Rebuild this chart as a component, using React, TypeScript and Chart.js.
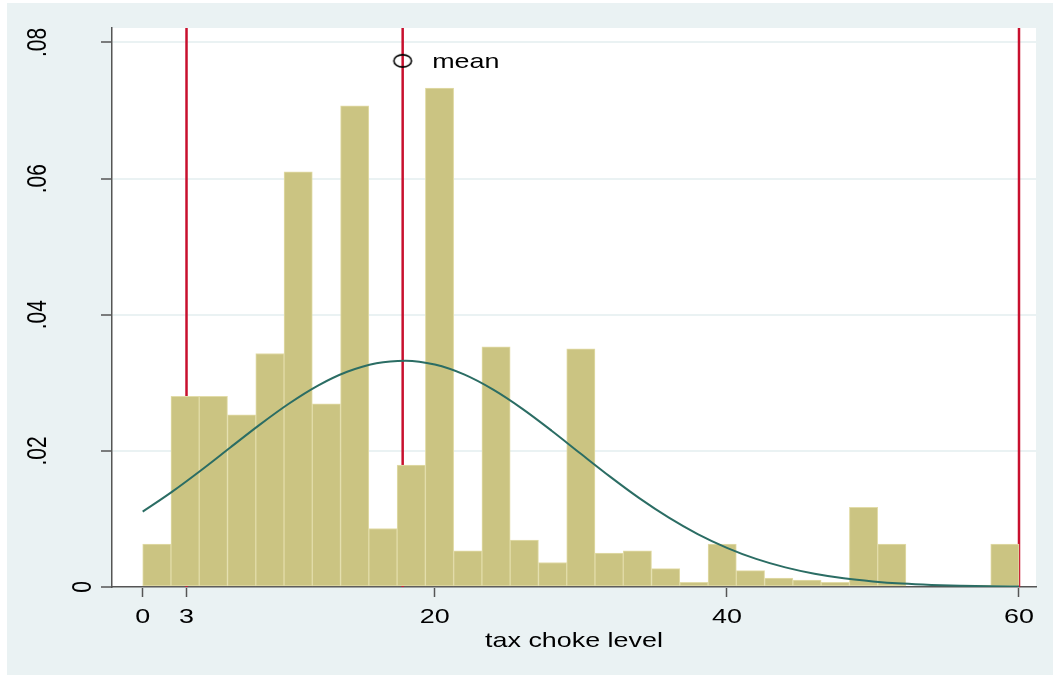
import { useEffect, useRef } from 'react';
import { Chart, registerables } from 'chart.js';

Chart.register(...registerables);

// ---- data ----
const BIN_COUNT = 31;
const BIN_MIN = 0;
const BIN_MAX = 60;
const DENSITY = [
  0.0063, 0.028, 0.028, 0.0253, 0.0343, 0.061, 0.0269, 0.0707, 0.0086, 0.0179,
  0.0733, 0.0053, 0.0353, 0.0069, 0.0036, 0.035, 0.005, 0.0053, 0.0027, 0.0007,
  0.0063, 0.0024, 0.0013, 0.001, 0.0007, 0.0117, 0.0063, 0, 0, 0.0003, 0.0063,
];
const CURVE_X = [
  0, 2, 4, 6, 8, 10, 12, 14, 16, 18, 20, 22, 24, 26, 28, 30, 32, 34, 36, 38, 40,
  42, 44, 46, 48, 50, 52, 54, 56, 58, 60,
];
const CURVE_Y = [
  0.01107, 0.01398, 0.01716, 0.0205, 0.02382, 0.02692, 0.02959, 0.03162, 0.03288,
  0.03325, 0.03268, 0.03123, 0.02899, 0.02617, 0.02296, 0.01957, 0.01622, 0.01306,
  0.01023, 0.00778, 0.00576, 0.00413, 0.00288, 0.00195, 0.00128, 0.00082, 0.0005,
  0.0003, 0.00018, 0.0001, 0.00006,
];
const X_TICKS = [0, 3, 20, 40, 60];
const X_TICK_LABELS = ['0', '3', '20', '40', '60'];
const Y_TICKS = [0, 0.02, 0.04, 0.06, 0.08];
const Y_TICK_LABELS = ['0', '.02', '.04', '.06', '.08'];
const X_LINES = [3, 17.8, 60];
const MEAN_X = [17.8];
const MEAN_Y = [0.0773];
const MEAN_LABEL = 'mean';
const X_TITLE = 'tax choke level';

// ---- styles ----
const BG = '#EAF2F3';
const FILL = '#CBC482';
const EDGE = '#E2DCA8';
const AXIS = '#555555';
const RED = '#C8102E';
const TEAL = '#2B6D64';
const FONT = '21px "Liberation Sans", Arial, sans-serif';
const STRETCH = 1.28;

function makeRing(): HTMLCanvasElement {
  const c = document.createElement('canvas');
  c.width = 24;
  c.height = 18;
  const g = c.getContext('2d')!;
  g.strokeStyle = '#000';
  g.lineWidth = 1.6;
  g.beginPath();
  g.ellipse(12, 9, 8.8, 6.1, 0, 0, Math.PI * 2);
  g.stroke();
  return c;
}

const bgPlugin = {
  id: 'bgPlugin',
  beforeDraw(chart: any) {
    const { ctx, chartArea: a, width, height } = chart;
    ctx.save();
    ctx.fillStyle = BG;
    ctx.fillRect(0, 0, width, height);
    ctx.fillStyle = '#ffffff';
    ctx.fillRect(a.left, a.top, a.right - a.left, a.bottom - a.top);
    ctx.restore();
  },
};

const refLinesPlugin = {
  id: 'refLines',
  beforeDatasetsDraw(chart: any) {
    const { ctx, chartArea: a } = chart;
    const xs = chart.scales.x;
    ctx.save();
    ctx.strokeStyle = RED;
    ctx.lineWidth = 2.5;
    X_LINES.forEach((v) => {
      const px = xs.getPixelForValue(v);
      ctx.beginPath();
      ctx.moveTo(px, a.top);
      ctx.lineTo(px, a.bottom);
      ctx.stroke();
    });
    ctx.restore();
  },
};

function drawStretched(ctx: CanvasRenderingContext2D, text: string, x: number, y: number, align: CanvasTextAlign) {
  ctx.save();
  ctx.translate(x, y);
  ctx.scale(STRETCH, 1);
  ctx.textAlign = align;
  ctx.textBaseline = 'alphabetic';
  ctx.fillText(text, 0, 0);
  ctx.restore();
}

const textPlugin = {
  id: 'textPlugin',
  afterDraw(chart: any) {
    const { ctx, chartArea: a } = chart;
    const xs = chart.scales.x;
    const ys = chart.scales.y;
    ctx.save();
    ctx.font = FONT;
    ctx.fillStyle = '#000';
    // x tick labels
    X_TICKS.forEach((v, i) => {
      drawStretched(ctx, X_TICK_LABELS[i], xs.getPixelForValue(v), a.bottom + 36.3, 'center');
    });
    // y tick labels (rotated)
    Y_TICKS.forEach((v, i) => {
      const label = Y_TICK_LABELS[i];
      const py = ys.getPixelForValue(v);
      const bx = label.length === 1 ? a.left - 21.3 : a.left - 66.5;
      ctx.save();
      ctx.translate(bx, py);
      ctx.scale(STRETCH, 1);
      ctx.rotate(-Math.PI / 2);
      ctx.textAlign = 'center';
      ctx.textBaseline = 'alphabetic';
      ctx.fillText(label, 0, 0);
      ctx.restore();
    });
    // x title
    drawStretched(ctx, X_TITLE, (a.left + a.right) / 2, a.bottom + 59.7, 'center');
    // mean label
    const meta = chart.getDatasetMeta(0);
    const pt = meta.data[0];
    if (pt) drawStretched(ctx, MEAN_LABEL, pt.x + 29.5, pt.y + 7, 'left');
    ctx.restore();
  },
};

export default function App() {
  const ref = useRef<HTMLCanvasElement>(null);

  useEffect(() => {
    if (!ref.current) return;
    const w = (BIN_MAX - BIN_MIN) / BIN_COUNT;
    const bars = DENSITY.map((d, i) => ({ x: BIN_MIN + (i + 0.5) * w, y: d }));
    const curve = CURVE_X.map((x, i) => ({ x, y: CURVE_Y[i] }));
    const meanPts = MEAN_X.map((x, i) => ({ x, y: MEAN_Y[i] }));
    const ring = makeRing();

    const chart = new Chart(ref.current, {
      type: 'bar',
      data: {
        datasets: [
          {
            type: 'scatter',
            label: MEAN_LABEL,
            data: meanPts,
            pointStyle: ring as any,
            pointRadius: 6,
            order: 1,
          } as any,
          {
            type: 'line',
            label: 'normal',
            data: curve,
            borderColor: TEAL,
            borderWidth: 2,
            pointRadius: 0,
            cubicInterpolationMode: 'monotone',
            fill: false,
            order: 2,
          } as any,
          {
            type: 'bar',
            label: 'density',
            data: bars,
            backgroundColor: FILL,
            borderColor: EDGE,
            borderWidth: 1,
            borderSkipped: false,
            barPercentage: 1,
            categoryPercentage: 1,
            grouped: false,
            order: 3,
          } as any,
        ],
      },
      options: {
        animation: false,
        responsive: false,
        layout: { padding: { left: 0, right: 17, top: 25, bottom: 0 } },
        plugins: { legend: { display: false }, tooltip: { enabled: false } },
        scales: {
          x: {
            type: 'linear',
            min: -2.102,
            max: 61.164,
            bounds: 'data',
            offset: false,
            afterBuildTicks: (s: any) => {
              s.ticks = X_TICKS.map((v) => ({ value: v }));
            },
            afterFit: (s: any) => {
              s.height = 88;
            },
            ticks: { display: false },
            grid: {
              display: true,
              drawOnChartArea: false,
              drawTicks: true,
              tickLength: 10,
              tickColor: AXIS,
              tickWidth: 1.5,
              offset: false,
            },
            border: { display: true, color: AXIS, width: 1.5 },
          },
          y: {
            type: 'linear',
            min: 0,
            max: 0.08213,
            bounds: 'data',
            afterBuildTicks: (s: any) => {
              s.ticks = Y_TICKS.map((v) => ({ value: v }));
            },
            afterFit: (s: any) => {
              s.width = 105;
            },
            ticks: { display: false },
            grid: {
              color: BG,
              lineWidth: 2,
              drawTicks: true,
              tickLength: 11,
              tickColor: AXIS,
              tickWidth: 1.5,
            },
            border: { display: true, color: AXIS, width: 1.5 },
          },
        },
      } as any,
      plugins: [bgPlugin, refLinesPlugin, textPlugin],
    });
    return () => chart.destroy();
  }, []);

  return (
    <div style={{ position: 'absolute', left: 0, top: 0, width: 1053, height: 676, background: '#fff' }}>
      <canvas ref={ref} width={1046} height={672} style={{ position: 'absolute', left: 7, top: 3 }} />
    </div>
  );
}
